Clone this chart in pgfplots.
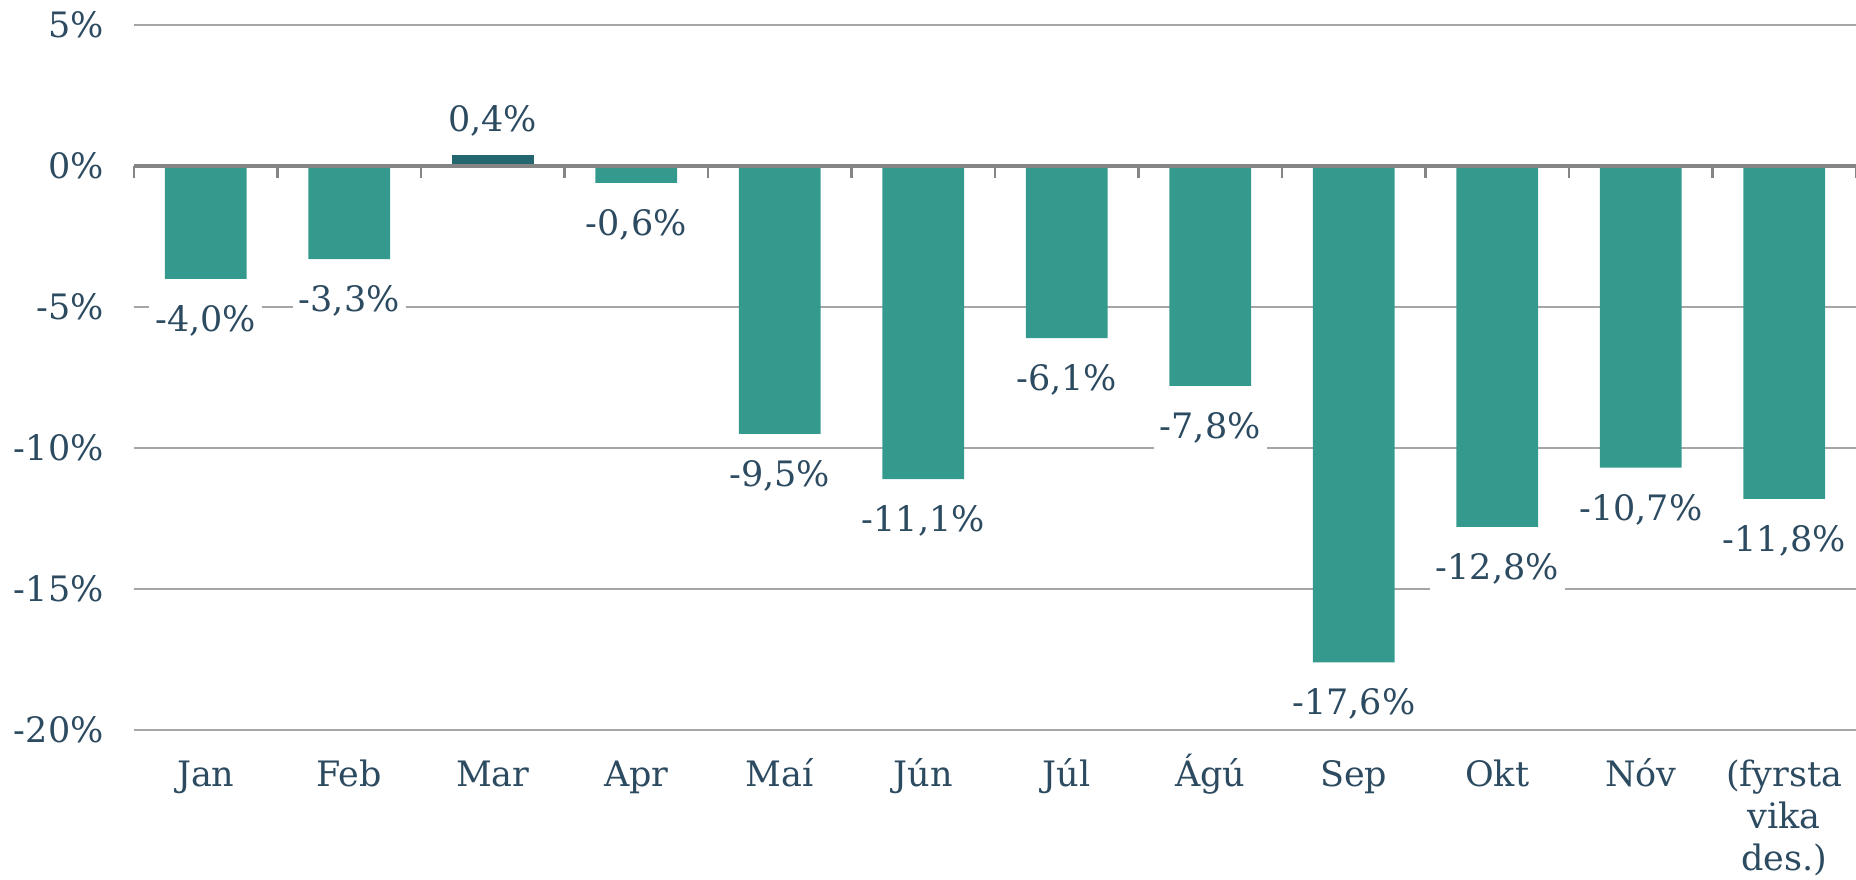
\documentclass[border=0pt]{standalone}
\usepackage{fontspec}
\setmainfont{DejaVu Serif}
\usepackage{pgfplots}
\pgfplotsset{compat=1.18}

\definecolor{barteal}{HTML}{359A8E}
\definecolor{bardark}{HTML}{23666F}
\definecolor{txt}{HTML}{2C4A60}
\definecolor{gridc}{HTML}{A6A6A6}
\definecolor{zeroc}{HTML}{858585}

% fixed-height strut so accented labels share a baseline
\newcommand\st{\rule{0pt}{17pt}}

\begin{document}
\begin{tikzpicture}
\begin{axis}[
    scale only axis,
    width=861pt, height=352.5pt,
    xmin=0.5, xmax=12.5,
    ymin=-20, ymax=5,
    ytick={-20,-15,-10,-5,0,5},
    yticklabels={-20\%,-15\%,-10\%,-5\%,0\%,5\%},
    xtick={1,2,3,4,5,6,7,8,9,10,11,12},
    xticklabels={\st Jan,\st Feb,\st Mar,\st Apr,\st Maí,\st Jún,\st Júl,\st Ágú,\st Sep,\st Okt,\st Nóv,{\st(fyrsta\\vika\\des.)}},
    axis line style={draw=none},
    major tick length=0pt,
    ymajorgrids,
    grid style={gridc, line width=0.8pt},
    font=\fontsize{17.5}{21}\selectfont,
    tick label style={txt},
    yticklabel style={inner sep=0pt, xshift=-15pt},
    xticklabel style={align=center, yshift=-7.5pt},
    ybar, bar width=40.8pt, bar shift=0pt,
    clip=false,
    point meta=explicit symbolic,
    nodes near coords,
    every node near coord/.style={txt, fill=white, inner sep=3pt, font=\fontsize{17.5}{20}\selectfont},
]
\addplot[fill=barteal, draw=none,
    every node near coord/.append style={anchor=north, yshift=-10pt}]
  coordinates {
    (1,-4.0) [-4,0\%]
    (2,-3.3) [-3,3\%]
    (4,-0.6) [-0,6\%]
    (5,-9.5) [-9,5\%]
    (6,-11.1) [-11,1\%]
    (7,-6.1) [-6,1\%]
    (8,-7.8) [-7,8\%]
    (9,-17.6) [-17,6\%]
    (10,-12.8) [-12,8\%]
    (11,-10.7) [-10,7\%]
    (12,-11.8) [-11,8\%]
  };
\addplot[fill=bardark, draw=none,
    every node near coord/.append style={anchor=south, yshift=6pt}]
  coordinates {
    (3,0.4) [0,4\%]
  };
% zero line with category separators
\draw[zeroc, line width=1.6pt] (axis cs:0.5,0) -- (axis cs:12.5,0);
\pgfplotsinvokeforeach{0.5,1.5,2.5,3.5,4.5,5.5,6.5,7.5,8.5,9.5,10.5,11.5,12.5}{
  \draw[zeroc, line width=1.2pt] (axis cs:#1,0) -- ([yshift=-6pt]axis cs:#1,0);
}
\end{axis}
\pgfresetboundingbox
\path ([xshift=-67pt,yshift=-74.5pt]current axis.south west) rectangle ([yshift=12.5pt]current axis.north east);
\end{tikzpicture}
\end{document}
